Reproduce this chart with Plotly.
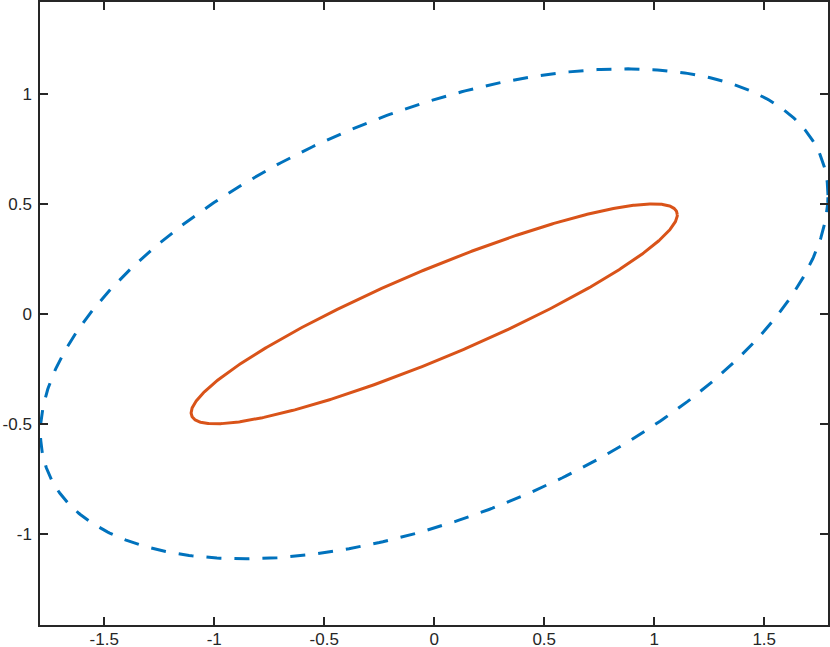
import numpy as np
import plotly.graph_objects as go

# Ellipse descriptions (data units)
ellipse_names = ["outer (dashed)", "inner"]
x_extent = [1.79, 1.105]        # max |x| reached by each ellipse
y_extent = [1.114, 0.50]        # max |y| reached by each ellipse
y_at_x_extent = [0.54, 0.45]    # y value where the ellipse reaches max x
line_colors = ["#0072BD", "#D95319"]
line_dashes = ["15px,13px", "solid"]

x_tickvals = [-1.5, -1.0, -0.5, 0.0, 0.5, 1.0, 1.5]
x_ticktext = ["-1.5", "-1", "-0.5", "0", "0.5", "1", "1.5"]
y_tickvals = [-1.0, -0.5, 0.0, 0.5, 1.0]
y_ticktext = ["-1", "-0.5", "0", "0.5", "1"]

t = np.linspace(0, 2 * np.pi, 721)

fig = go.Figure()
for name, X, Y, yx, col, dash in zip(ellipse_names, x_extent, y_extent,
                                     y_at_x_extent, line_colors, line_dashes):
    phi = np.arccos(yx / Y)
    fig.add_trace(go.Scatter(
        x=X * np.cos(t), y=Y * np.cos(t - phi), mode="lines", name=name,
        line=dict(color=col, width=3, dash=dash), showlegend=False,
        hoverinfo="skip"))

axis_common = dict(
    showgrid=False, zeroline=False, showline=True, linecolor="#262626",
    linewidth=1.5, mirror="ticks", ticks="inside", ticklen=8, tickwidth=1.5,
    tickcolor="#262626", automargin=False,
    tickfont=dict(family="Liberation Sans, Arial, sans-serif", size=17,
                  color="#262626"),
)

fig.update_layout(
    width=830, height=647,
    margin=dict(l=40, r=2, t=2, b=22),
    paper_bgcolor="white", plot_bgcolor="white",
    xaxis=dict(range=[-1.792, 1.79], tickvals=x_tickvals, ticktext=x_ticktext,
               ticklabelstandoff=-2, **axis_common),
    yaxis=dict(range=[-1.415, 1.418], tickvals=y_tickvals, ticktext=y_ticktext,
               ticklabelstandoff=3, **axis_common),
)

fig.write_html(
    "out.html",
    config={"displayModeBar": False},
    post_script="document.body.style.margin='0';"
                "document.body.style.overflow='hidden';",
)
